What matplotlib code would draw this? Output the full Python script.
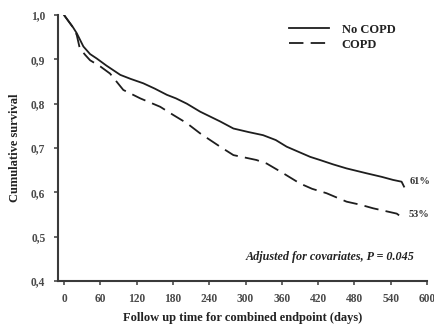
import matplotlib.pyplot as plt

# Kaplan-Meier style survival estimates (days, cumulative survival)
no_copd_days = [0, 8, 15, 21, 32, 43, 54, 70, 93, 110, 131, 150, 170, 185, 203,
                225, 258, 280, 305, 329, 350, 368, 390, 407, 423, 445, 467,
                500, 525, 544, 558, 562]
no_copd_surv = [1.0, 0.985, 0.972, 0.959, 0.929, 0.912, 0.902, 0.886, 0.865,
                0.856, 0.846, 0.834, 0.820, 0.812, 0.800, 0.782, 0.760, 0.744,
                0.736, 0.729, 0.718, 0.703, 0.690, 0.680, 0.673, 0.663, 0.654,
                0.643, 0.635, 0.628, 0.624, 0.613]

copd_days = [0, 8, 15, 21, 26, 35, 43, 60, 76, 98, 126, 159, 180, 203, 225,
             258, 280, 318, 335, 360, 390, 410, 434, 467, 490, 511, 550, 561]
copd_surv = [1.0, 0.985, 0.972, 0.955, 0.925, 0.910, 0.898, 0.884, 0.868,
             0.831, 0.812, 0.793, 0.775, 0.756, 0.733, 0.703, 0.684, 0.673,
             0.665, 0.645, 0.620, 0.608, 0.598, 0.579, 0.572, 0.564, 0.552,
             0.541]

end_labels = ["61%", "53%"]
x_ticks = [0, 60, 120, 180, 240, 300, 360, 420, 480, 540, 600]
y_ticks = [0.4, 0.5, 0.6, 0.7, 0.8, 0.9, 1.0]

plt.rcParams['font.family'] = ['Liberation Serif', 'DejaVu Serif']
line_col = '#1e1e1e'
axis_col = '#3a3a3a'

fig = plt.figure(figsize=(4.35, 3.27), dpi=100)
ax = fig.add_axes([0.1333, 0.1407, 0.8483, 0.8133])

ax.plot(no_copd_days, no_copd_surv, color=line_col, lw=1.3, label='No COPD')
ax.plot(copd_days, copd_surv, color=line_col, lw=1.3, dashes=(8, 4), label='COPD')

ax.text(no_copd_days[-1] + 9, no_copd_surv[-1] + 0.012, end_labels[0],
        fontsize=7.5, fontweight='bold', color='#333333', va='center')
ax.text(copd_days[-1] + 9, copd_surv[-1] + 0.008, end_labels[1],
        fontsize=7.5, fontweight='bold', color='#333333', va='center')
ax.text(580, 0.455, 'Adjusted for covariates, P = 0.045',
        fontsize=8.7, fontweight='bold', fontstyle='italic', color='#222222',
        ha='right', va='center')

ax.set_xlim(-10, 600)
ax.set_ylim(0.4, 1.0)
ax.set_xticks(x_ticks)
ax.set_yticks(y_ticks)
ax.set_yticklabels([f"{v:.1f}".replace('.', ',') for v in y_ticks])
for lab in ax.get_xticklabels() + ax.get_yticklabels():
    lab.set_fontweight('bold')
ax.tick_params(labelsize=8.3, colors='#4a4a4a', width=1.2, length=3, pad=6)

for side in ['top', 'right']:
    ax.spines[side].set_visible(False)
for side in ['left', 'bottom']:
    ax.spines[side].set_linewidth(1.5)
    ax.spines[side].set_color(axis_col)

ax.set_xlabel('Follow up time for combined endpoint (days)', fontsize=9,
              fontweight='bold', color='#222222', labelpad=5)
ax.set_ylabel('Cumulative survival', fontsize=9, fontweight='bold',
              color='#222222', labelpad=7)

leg = ax.legend(loc='upper right', bbox_to_anchor=(0.945, 1.01), frameon=False,
                prop={'weight': 'bold', 'size': 9}, handlelength=3.2,
                handletextpad=1.0, labelspacing=0.25)
for t in leg.get_texts():
    t.set_color('#222222')

fig.savefig('out.png', dpi=100)
